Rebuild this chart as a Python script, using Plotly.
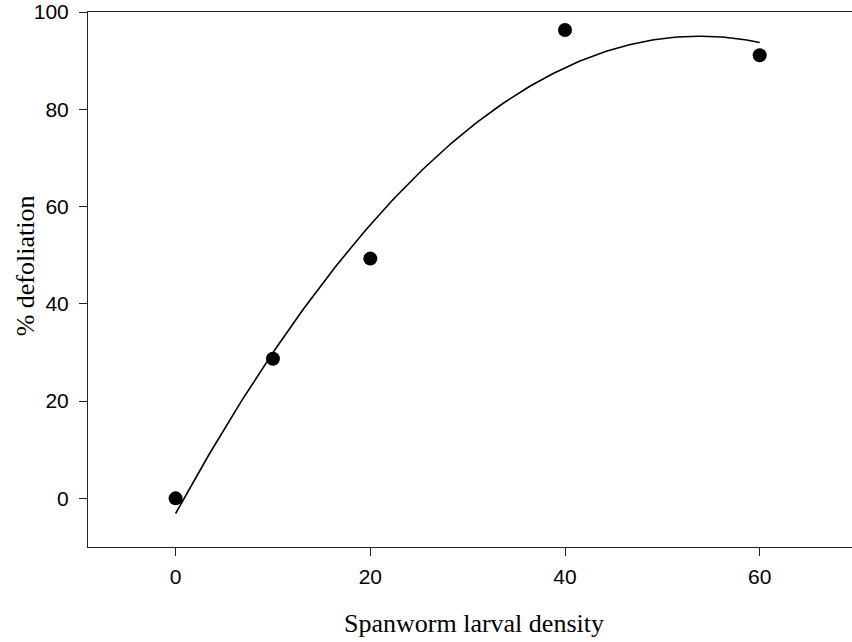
import numpy as np
import plotly.graph_objects as go

# Data
density = [0, 10, 20, 40, 60]
defoliation = [0.0, 28.7, 49.3, 96.3, 91.1]
x_ticks = [0, 20, 40, 60]
y_ticks = [0, 20, 40, 60, 80, 100]
x_title = "Spanworm larval density"
y_title = "% defoliation"

# Quadratic regression through the observed points
coef = np.polyfit(density, defoliation, 2)
xf = np.linspace(min(density), max(density), 200)
yf = np.polyval(coef, xf)

fig = go.Figure()
fig.add_trace(go.Scatter(x=xf, y=yf, mode="lines",
                         line=dict(color="black", width=1.6),
                         hoverinfo="skip", showlegend=False))
fig.add_trace(go.Scatter(x=density, y=defoliation, mode="markers",
                         marker=dict(color="black", size=14, symbol="circle"),
                         showlegend=False))

tick_font = dict(family="Liberation Sans, Arial, sans-serif", size=21, color="black")
title_font = dict(family="Liberation Serif, Times New Roman, serif", size=26, color="black")

fig.update_layout(
    width=852, height=642,
    margin=dict(l=88, r=0, t=12, b=95),
    paper_bgcolor="white", plot_bgcolor="white",
    xaxis=dict(range=[-9, 69.48], tickvals=x_ticks, ticks="outside", ticklen=8,
               tickcolor="#222", tickwidth=1, showline=True, linecolor="#222",
               linewidth=1, mirror=True, showgrid=False, zeroline=False,
               tickfont=tick_font, ticklabelstandoff=3),
    yaxis=dict(range=[-10, 100], tickvals=y_ticks, ticks="outside", ticklen=8,
               tickcolor="#222", tickwidth=1, showline=True, linecolor="#222",
               linewidth=1, mirror=False, showgrid=False, zeroline=False,
               tickfont=tick_font, ticklabelstandoff=6),
    annotations=[
        dict(text=x_title, xref="paper", yref="paper", x=0.5046, y=0,
             xanchor="center", yanchor="middle", yshift=-76, showarrow=False,
             font=title_font),
        dict(text=y_title, xref="paper", yref="y", x=0, y=47.7,
             xanchor="center", yanchor="middle", xshift=-63, textangle=-90,
             showarrow=False, font=title_font),
    ],
)

fig.write_html("out.html")
